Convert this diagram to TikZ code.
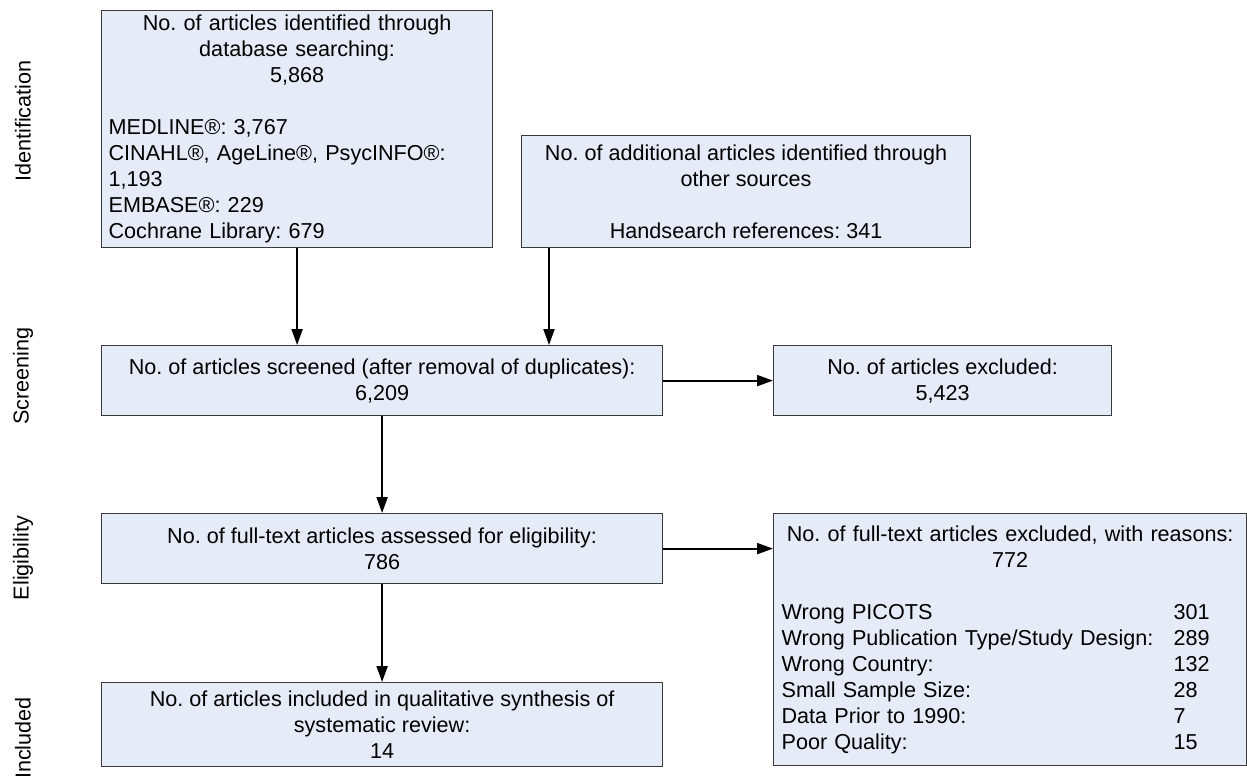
\documentclass[tikz,border=0pt]{standalone}
\usepackage{fontspec}
\setmainfont{Liberation Sans}
\usetikzlibrary{arrows.meta,positioning,calc}
\definecolor{boxfill}{HTML}{E6ECF7}
\definecolor{boxline}{HTML}{3A3A3A}
\frenchspacing

\begin{document}
\begin{tikzpicture}[x=0.5pt,y=-0.5pt,
  caja/.style={draw=boxline,line width=0.6pt,fill=boxfill,anchor=north west,
    inner xsep=3.5pt,inner ysep=2pt,font=\fontsize{10.8}{13}\selectfont},
  flecha/.style={-{Triangle[length=8pt,width=5.5pt]},line width=1pt},
  fase/.style={rotate=90,font=\fontsize{10.8}{13}\selectfont}]
  \useasboundingbox (0,0) rectangle (1247,778);
  % fases
  \node[fase] (ident) at (23,121) {Identification};
  \node[fase] (screen) at (23,376) {Screening};
  \node[fase] (elig) at (23,558) {Eligibility};
  \node[fase] (inclu) at (23,738) {Included};
  % identificacion
  \node[caja,text width=188.5pt,minimum height=118.5pt] (bases) at (101,10)
    {\centering No. of articles identified through\\database searching:\\5,868\par
     \vspace{13pt}\raggedright MEDLINE®: 3,767\\CINAHL®, AgeLine®, PsycINFO®:\\1,193\\
     EMBASE®: 229\\Cochrane Library: 679};
  \node[caja,align=center,minimum width=224.5pt,minimum height=56pt] (otras) at (521,135)
    {No. of additional articles identified through\\other sources\\[13pt]Handsearch references: 341};
  % cribado
  \node[caja,align=center,minimum width=280.5pt,minimum height=35pt] (cribado) at (101,345)
    {No. of articles screened (after removal of duplicates):\\6,209};
  \node[caja,align=center,minimum width=169pt,minimum height=35pt] (excl) at (773,345)
    {No. of articles excluded:\\5,423};
  % elegibilidad
  \node[caja,align=center,minimum width=280.5pt,minimum height=35pt] (eleg) at (101,513)
    {No. of full-text articles assessed for eligibility:\\786};
  \node[caja,text width=228.5pt,inner xsep=4pt,minimum height=126pt] (textocompl) at (773,513)
    {\centering No. of full-text articles excluded, with reasons:\\772\par
     \vspace{13pt}\raggedright
     \makebox[196pt][l]{Wrong PICOTS}301\\
     \makebox[196pt][l]{Wrong Publication Type/Study Design:}289\\
     \makebox[196pt][l]{Wrong Country:}132\\
     \makebox[196pt][l]{Small Sample Size:}28\\
     \makebox[196pt][l]{Data Prior to 1990:}7\\
     \makebox[196pt][l]{Poor Quality:}15};
  % incluidos
  \node[caja,align=center,minimum width=280.5pt,minimum height=42pt] (incl) at (101,682)
    {No. of articles included in qualitative synthesis of\\systematic review:\\14};
  % flechas
  \coordinate (otrasbase) at ([xshift=14pt]otras.south west);
  \draw[flecha] (bases.south) -- (bases.south |- cribado.north);
  \draw[flecha] (otrasbase) -- (otrasbase |- cribado.north);
  \draw[flecha] (cribado.east) -- (excl.west);
  \draw[flecha] (cribado.south) -- (eleg.north);
  \draw[flecha] (eleg.east) -- (eleg.east -| textocompl.west);
  \draw[flecha] (eleg.south) -- (incl.north);
\end{tikzpicture}
\end{document}
